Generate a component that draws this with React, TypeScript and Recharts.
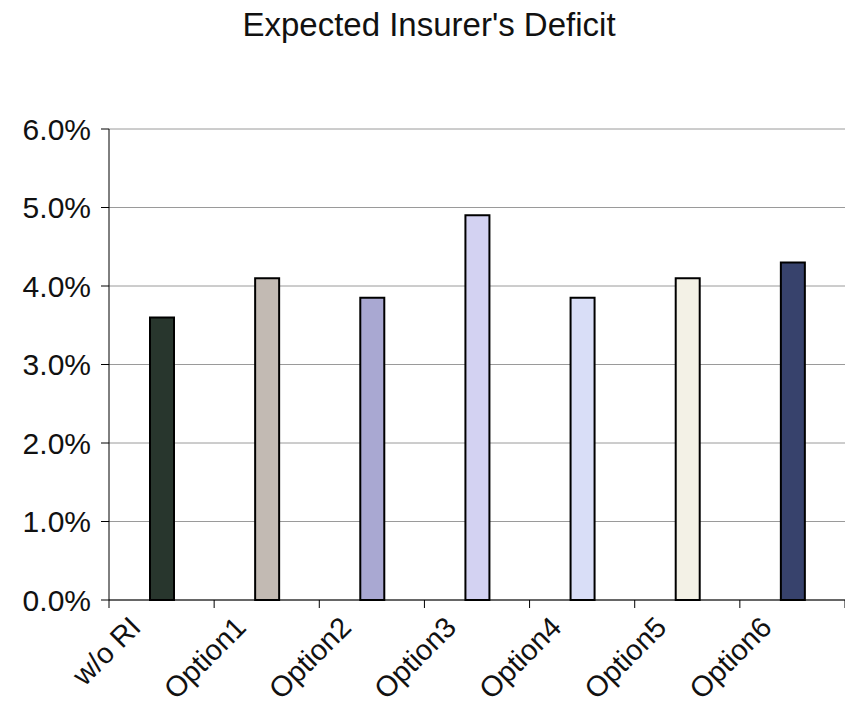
import { BarChart, Bar, XAxis, YAxis, CartesianGrid, Cell } from 'recharts'

const categories = ['w/o RI', 'Option1', 'Option2', 'Option3', 'Option4', 'Option5', 'Option6']
const deficit = [3.6, 4.1, 3.85, 4.9, 3.85, 4.1, 4.3]
const barColors = ['#28362d', '#c2bab3', '#a9a8d2', '#d3d2f2', '#d9def7', '#f3f1e6', '#37426c']
const yTicks = [0, 1, 2, 3, 4, 5, 6]

const chartData = categories.map((name, i) => ({ name, value: deficit[i] }))

const FONT = '"Liberation Sans", Arial, sans-serif'

function XTick(props: any) {
  const { x, y, payload, index } = props
  const off = payload.offset ?? 0
  const last = index === categories.length - 1
  const ax = x - 19
  const ay = y + 29
  return (
    <g>
      <line x1={x - off} y1={y} x2={x - off} y2={y + 8} stroke="#000" strokeWidth={1} />
      {last && <line x1={x + off} y1={y} x2={x + off} y2={y + 8} stroke="#000" strokeWidth={1} />}
      <text
        x={ax}
        y={ay}
        textAnchor="end"
        transform={`rotate(-45, ${ax}, ${ay})`}
        fontSize={29}
        fontFamily={FONT}
        fill="#111"
      >
        {payload.value}
      </text>
    </g>
  )
}

export default function App() {
  return (
    <div style={{ position: 'absolute', left: 0, top: 0, width: 845, height: 707, background: '#fff' }}>
      <div
        style={{
          position: 'absolute', left: 0, top: 6, width: 858, textAlign: 'center',
          fontFamily: FONT, fontSize: 33, color: '#111',
        }}
      >
        Expected Insurer's Deficit
      </div>
      <BarChart
        width={845}
        height={707}
        data={chartData}
        margin={{ top: 129, right: 0, left: 0, bottom: 0 }}
        barCategoryGap={0}
      >
        <CartesianGrid vertical={false} stroke="#9a9a9a" strokeWidth={1} />
        <YAxis
          domain={[0, 6]}
          ticks={yTicks}
          interval={0}
          width={109}
          tickSize={8}
          tickMargin={10}
          axisLine={{ stroke: '#000', strokeWidth: 1 }}
          tickLine={{ stroke: '#000', strokeWidth: 1 }}
          tick={{ fontSize: 30, fontFamily: FONT, fill: '#111' }}
          tickFormatter={(v: number) => `${v.toFixed(1)}%`}
        />
        <XAxis
          dataKey="name"
          height={107}
          interval={0}
          tickSize={0}
          tickMargin={0}
          tickLine={false}
          axisLine={{ stroke: '#000', strokeWidth: 1 }}
          tick={<XTick />}
        />
        <Bar dataKey="value" barSize={24} stroke="#000" strokeWidth={2} isAnimationActive={false}>
          {chartData.map((_, i) => (
            <Cell key={i} fill={barColors[i]} />
          ))}
        </Bar>
      </BarChart>
    </div>
  )
}
